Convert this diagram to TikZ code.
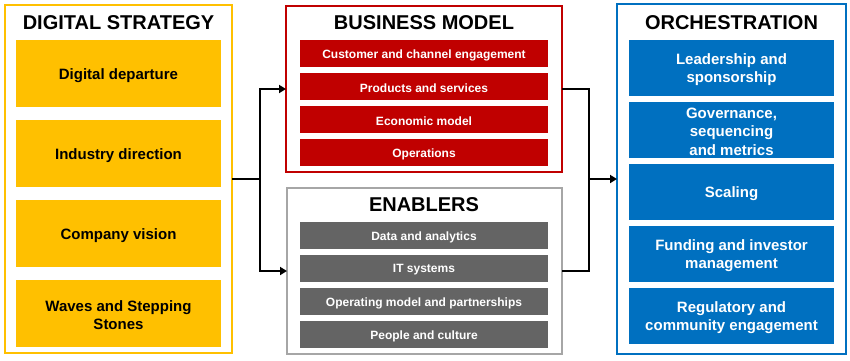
\documentclass[tikz,border=0pt]{standalone}
\usepackage{fontspec}
\setmainfont{Liberation Sans}
\usetikzlibrary{arrows.meta,calc}
\definecolor{dsgold}{HTML}{FFC000}
\definecolor{bmred}{HTML}{C00000}
\definecolor{engray}{HTML}{646464}
\definecolor{enborder}{HTML}{A6A6A6}
\definecolor{orblue}{HTML}{0070C0}
\tikzset{
  outerbox/.style={draw, line width=2.2pt, fill=white, anchor=north west, inner sep=0pt, outer sep=0pt},
  titletext/.style={font=\bfseries\fontsize{20}{22}\selectfont, text=black, inner sep=0pt},
  bigitem/.style={anchor=north west, inner sep=0pt, outer sep=0pt, minimum width=205pt, minimum height=67pt},
  bigtext/.style={align=center, inner sep=0pt, font=\bfseries\fontsize{15}{18.5}\selectfont, yshift=-1.8pt},
  dsitem/.style={bigitem, fill=dsgold, label={[bigtext, text=black]center:{#1}}},
  oritem/.style={bigitem, fill=orblue, minimum height=56pt, label={[bigtext, text=white]center:{#1}}},
  smallitem/.style={anchor=north west, inner sep=0pt, outer sep=0pt, minimum width=248pt, minimum height=27pt},
  smalltext/.style={align=center, inner sep=0pt, text=white, font=\bfseries\fontsize{12}{14}\selectfont, yshift=-1.5pt},
  bmitem/.style={smallitem, fill=bmred, label={[smalltext]center:{#1}}},
  enitem/.style={smallitem, fill=engray, label={[smalltext]center:{#1}}},
  conn/.style={line width=2pt, black},
  arr/.style={conn, -{Triangle[length=7pt,width=8pt]}}
}
\begin{document}
\begin{tikzpicture}[x=1pt,y=-1pt]
\useasboundingbox (0,0) rectangle (850,360);
% Digital strategy
\node[outerbox, draw=dsgold, minimum width=227pt, minimum height=348pt] (ds) at (5,5) {};
\node[titletext] (dst) at (118.5,23) {DIGITAL STRATEGY};
\node[dsitem={Digital departure}] (ds1) at (16,40) {};
\node[dsitem={Industry direction}] (ds2) at (16,120) {};
\node[dsitem={Company vision}] (ds3) at (16,200) {};
\node[dsitem={Waves and Stepping\\Stones}] (ds4) at (16,280) {};
% Business model
\node[outerbox, draw=bmred, minimum width=276pt, minimum height=166pt] (bm) at (286,6) {};
\node[titletext] (bmt) at (424,23) {BUSINESS MODEL};
\node[bmitem={Customer and channel engagement}] (bm1) at (300,40) {};
\node[bmitem={Products and services}] (bm2) at (300,73) {};
\node[bmitem={Economic model}] (bm3) at (300,106) {};
\node[bmitem={Operations}] (bm4) at (300,139) {};
% Enablers
\node[outerbox, draw=enborder, minimum width=275pt, minimum height=166pt] (en) at (287,188) {};
\node[titletext] (ent) at (424,205) {ENABLERS};
\node[enitem={Data and analytics}] (en1) at (300,222) {};
\node[enitem={IT systems}] (en2) at (300,255) {};
\node[enitem={Operating model and partnerships}] (en3) at (300,288) {};
\node[enitem={People and culture}] (en4) at (300,321) {};
% Orchestration
\node[outerbox, draw=orblue, minimum width=229pt, minimum height=350pt] (or) at (617,4) {};
\node[titletext] (ort) at (731.5,23) {ORCHESTRATION};
\node[oritem={Leadership and\\sponsorship}] (or1) at (629,40) {};
\node[oritem={Governance,\\sequencing\\and metrics}] (or2) at (629,102) {};
\node[oritem={Scaling}] (or3) at (629,164) {};
\node[oritem={Funding and investor\\management}] (or4) at (629,226) {};
\node[oritem={Regulatory and\\community engagement}] (or5) at (629,288) {};
% Connectors
\draw[conn] (ds.east) -- ++(28,0) coordinate (j1);
\draw[arr] (j1) |- (bm.west);
\draw[arr] (j1) |- (en.west);
\coordinate (j2) at ($(or.west)+(-28,0)$);
\draw[conn] (bm.east) -| (j2);
\draw[conn] (en.east) -| (j2);
\draw[arr] (j2) -- (or.west);
\end{tikzpicture}
\end{document}
